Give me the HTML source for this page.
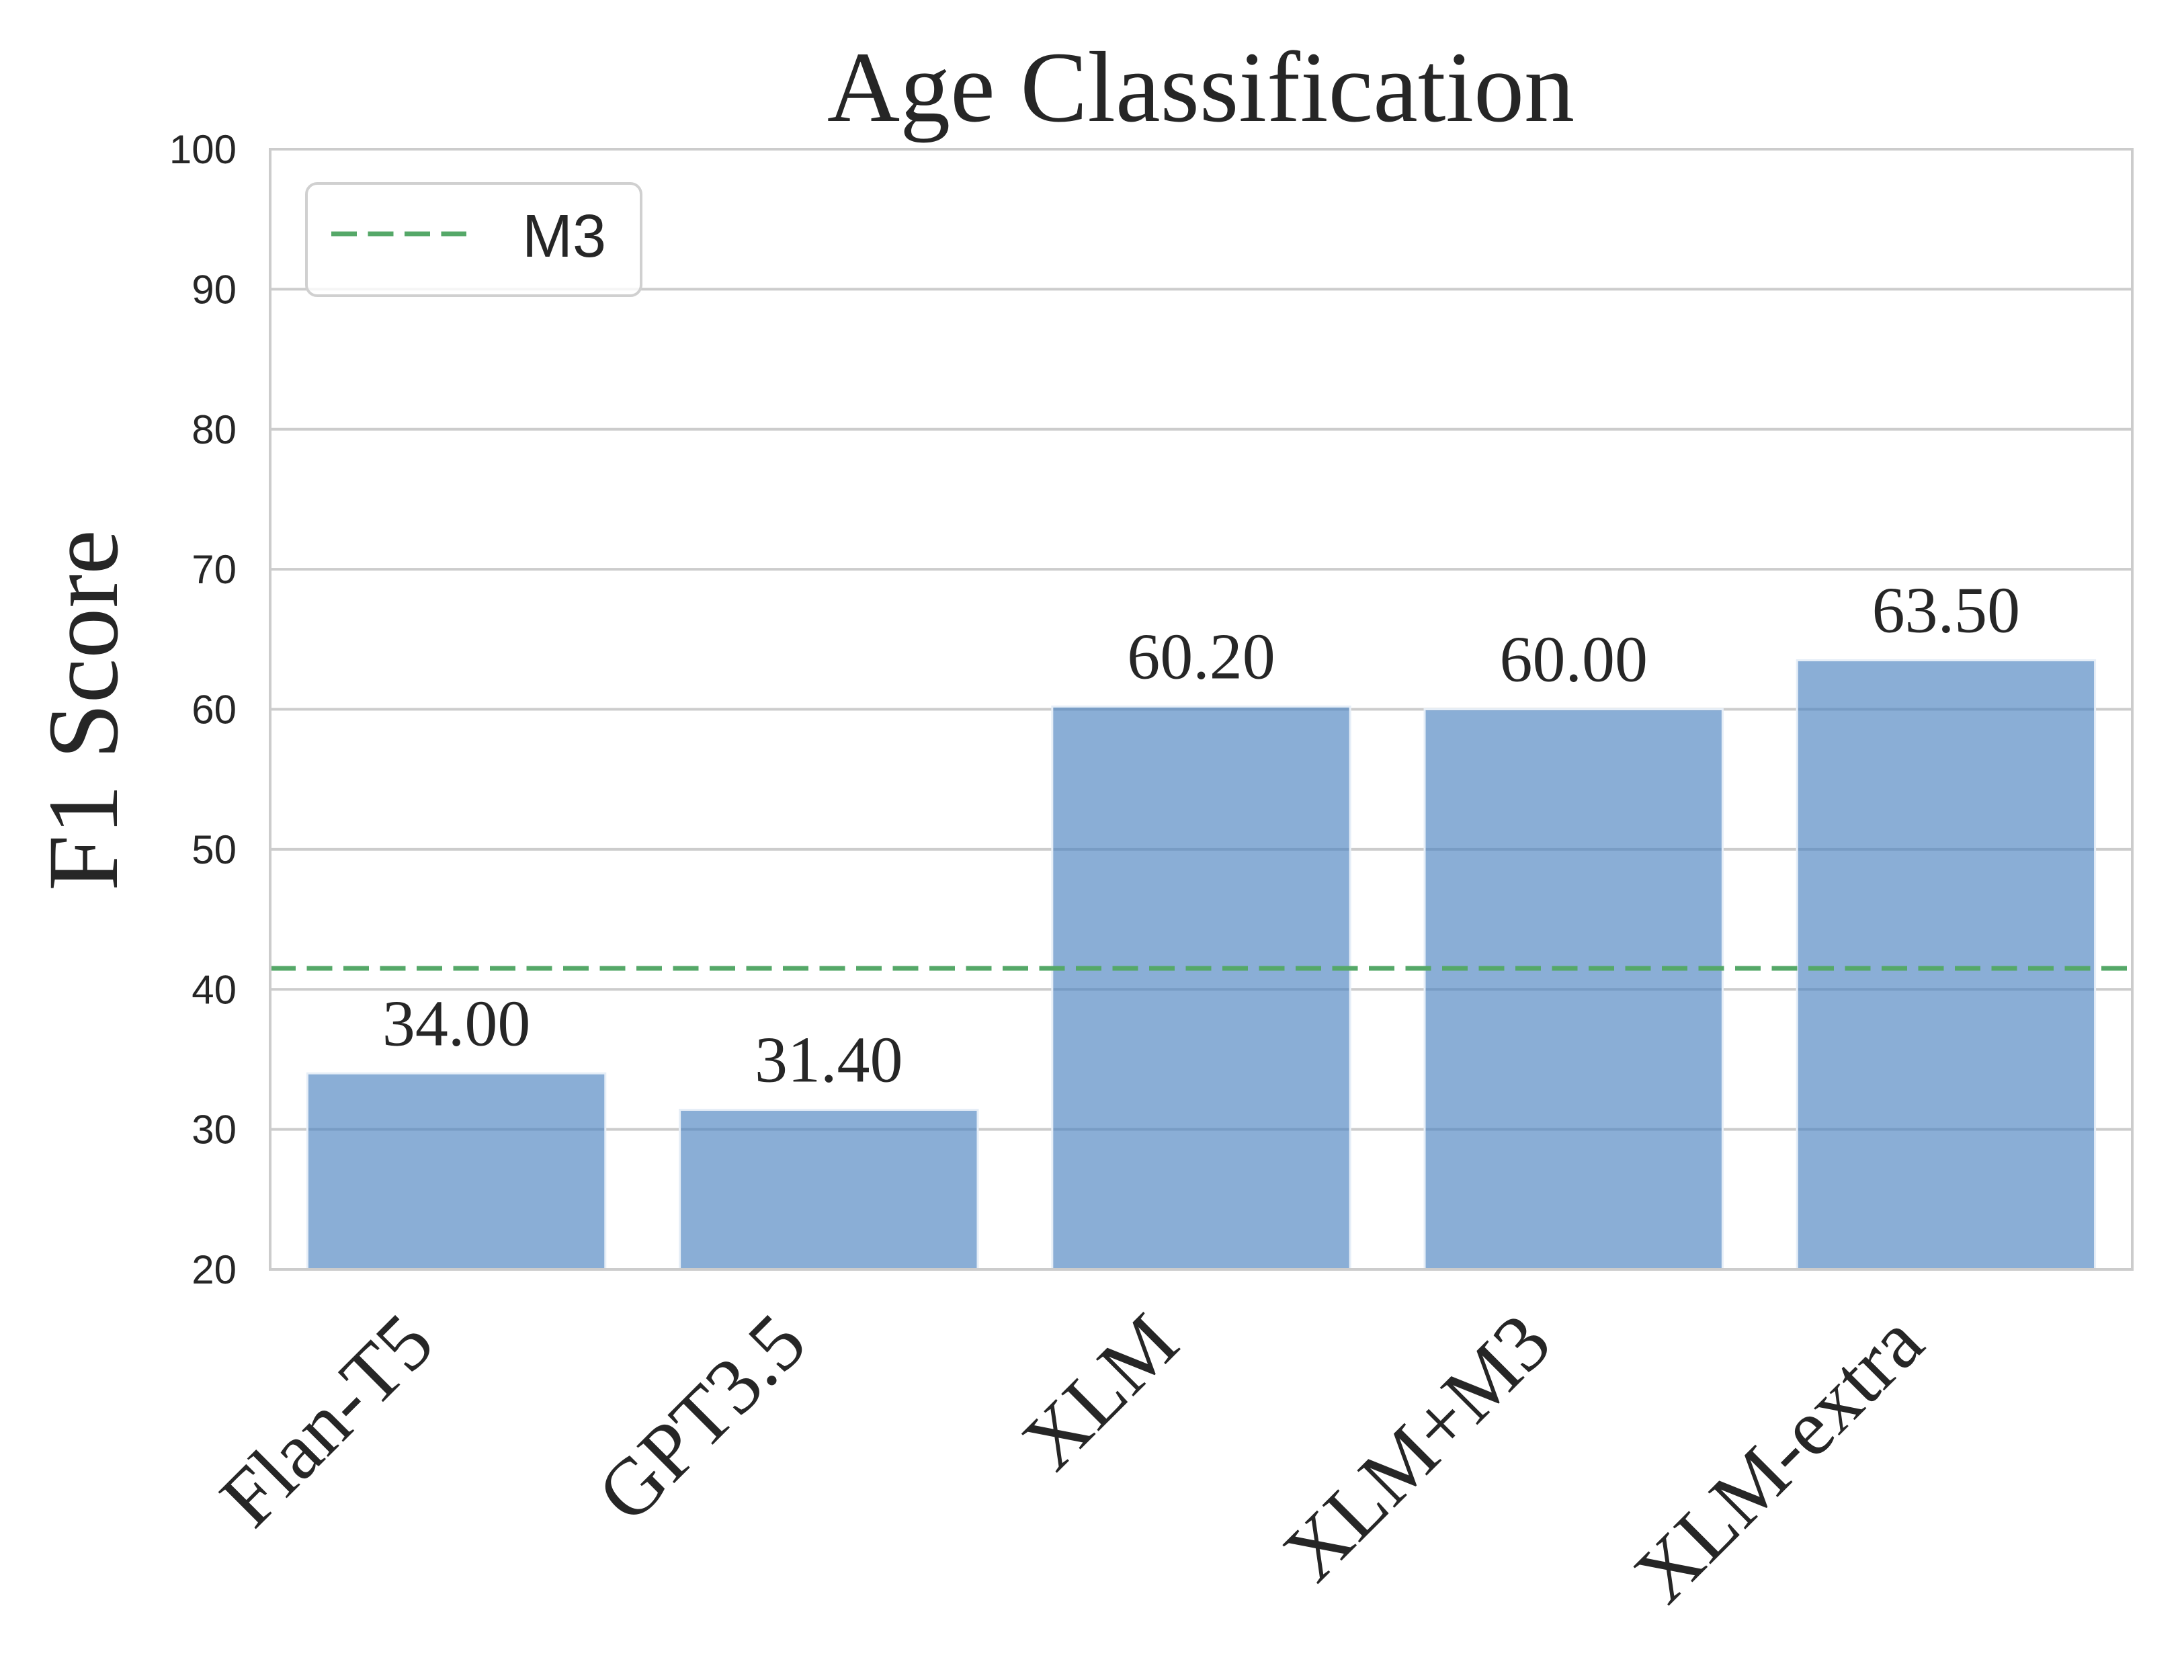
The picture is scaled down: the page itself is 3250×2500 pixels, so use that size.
<!DOCTYPE html>
<html><head><meta charset="utf-8"><style>
html,body{margin:0;padding:0;background:#fff;}
svg{display:block;}
</style></head><body>
<svg id="chart" width="3250" height="2500" viewBox="0 0 3250 2500" xmlns="http://www.w3.org/2000/svg">
<rect x="0" y="0" width="3250" height="2500" fill="#fff"/>
<g id="grid"></g>
<g id="bars"></g>
<g id="ref"></g>
<g id="spines"></g>
<g id="labels"></g>
<text x="1787" y="180" text-anchor="middle" font-family="Liberation Serif, serif" font-size="150" fill="#262626">Age Classification</text>
<text transform="translate(174,1057) rotate(-90)" text-anchor="middle" font-family="Liberation Serif, serif" font-size="150" fill="#262626">F1 Score</text>
<g>
<rect x="456" y="273" width="498" height="167" rx="16" ry="16" fill="#fff" fill-opacity="0.8" stroke="#d0d0d0" stroke-width="4"/>
<line x1="493" y1="348" x2="694" y2="348" stroke="#55a868" stroke-width="7" stroke-dasharray="38,16.5"/>
<text x="777" y="382" font-family="Liberation Sans, sans-serif" font-size="90" fill="#262626">M3</text>
</g>
</svg>
<script>
const categories = ["Flan-T5", "GPT3.5", "XLM", "XLM+M3", "XLM-extra"];
const scores = [34.00, 31.40, 60.20, 60.00, 63.50];
const valueLabels = ["34.00", "31.40", "60.20", "60.00", "63.50"];
const yTicks = [20, 30, 40, 50, 60, 70, 80, 90, 100];
const m3Value = 41.5;

const NS = "http://www.w3.org/2000/svg";
const L = 402, R = 3173, T = 222, B = 1889;
const yMin = 20, yMax = 100;
function y(v){ return B - (v - yMin) / (yMax - yMin) * (B - T); }
const band = (R - L) / categories.length;
function xc(i){ return L + (i + 0.5) * band; }
function mk(tag, attrs, parent){
  const e = document.createElementNS(NS, tag);
  for (const k in attrs) e.setAttribute(k, attrs[k]);
  parent.appendChild(e);
  return e;
}
const grid = document.getElementById('grid');
const labels = document.getElementById('labels');
yTicks.forEach(t => {
  const ln = mk('line', {x1: L, x2: R, y1: y(t), y2: y(t), stroke: '#cccccc', 'stroke-width': 4}, grid);
  
  
  const tx = mk('text', {x: 352, y: y(t) + 21, 'text-anchor': 'end', 'font-family': 'Liberation Sans, sans-serif', 'font-size': 60, fill: '#262626'}, labels);
  tx.textContent = String(t);
  
  
});
const bars = document.getElementById('bars');
const bw = band * 0.8;
scores.forEach((v, i) => {
  const r = mk('rect', {x: xc(i) - bw / 2, y: y(v), width: bw, height: B - y(v), fill: 'rgb(76,130,192)', 'fill-opacity': 0.65, stroke: '#e6eef7', 'stroke-width': 3}, bars);
  
  
  const vl = mk('text', {x: xc(i), y: y(v) - 42, 'text-anchor': 'middle', 'font-family': 'Liberation Serif, serif', 'font-size': 98, fill: '#262626'}, labels);
  vl.textContent = valueLabels[i];
  
  
  const ex = xc(i) - 28, ey = 2005;
  const cl = mk('text', {transform: 'translate(' + ex + ',' + ey + ') rotate(-45)', 'text-anchor': 'end', 'font-family': 'Liberation Serif, serif', 'font-size': 120, fill: '#262626'}, labels);
  cl.textContent = categories[i];
  
  
});
const ref = document.getElementById('ref');
const rl = mk('line', {x1: L, x2: R, y1: y(m3Value), y2: y(m3Value), stroke: '#55a868', 'stroke-width': 7, 'stroke-dasharray': '38,16.5'}, ref);


const sp = document.getElementById('spines');
const fr = mk('rect', {x: L, y: T, width: R - L, height: B - T, fill: 'none', stroke: '#cccccc', 'stroke-width': 4}, sp);


</script>
</body></html>
